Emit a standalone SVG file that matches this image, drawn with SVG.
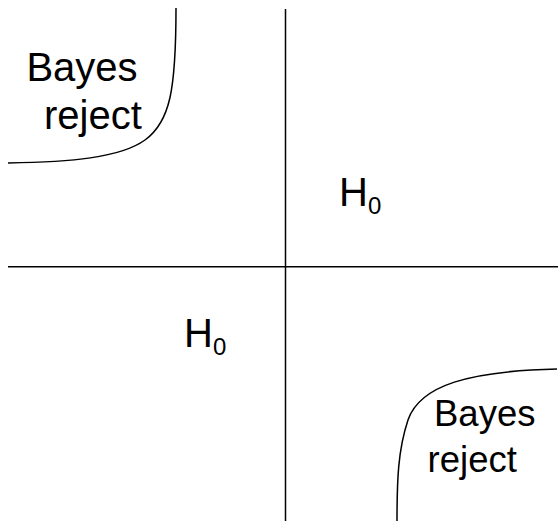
<svg xmlns="http://www.w3.org/2000/svg" width="559" height="524" viewBox="0 0 559 524">
<style>
.ln{stroke:#000;stroke-width:1.5;fill:none}
.t{font-family:"Liberation Sans",Arial,sans-serif;fill:#000}
</style>
<rect width="559" height="524" fill="#fff"/>
<g id="connectors">
<line class="ln" x1="285.5" y1="9" x2="285.5" y2="521"/>
<line class="ln" x1="8" y1="266.7" x2="558" y2="266.7"/>
<path class="ln" d="M8,163 C70,162 120,158 145,140 C170,122 176,90 176,8"/>
<path class="ln" d="M557,369 C470,371 420,385 408,420 C398,450 397,480 397,521"/>
</g>
<g id="bayes-top-left">
<text class="t" x="26.4" y="81" font-size="40">Bayes</text>
<text class="t" x="44" y="128.5" font-size="40">reject</text>
</g>
<g id="h0-top-right">
<text class="t" x="339" y="206" font-size="40">H<tspan font-size="24" y="213.5">0</tspan></text>
</g>
<g id="h0-bottom-left">
<text class="t" x="184" y="346.7" font-size="40">H<tspan font-size="24" y="354.5">0</tspan></text>
</g>
<g id="bayes-bottom-right">
<text class="t" x="434" y="426" font-size="36.5">Bayes</text>
<text class="t" x="427.6" y="472" font-size="36.5">reject</text>
</g>
</svg>
